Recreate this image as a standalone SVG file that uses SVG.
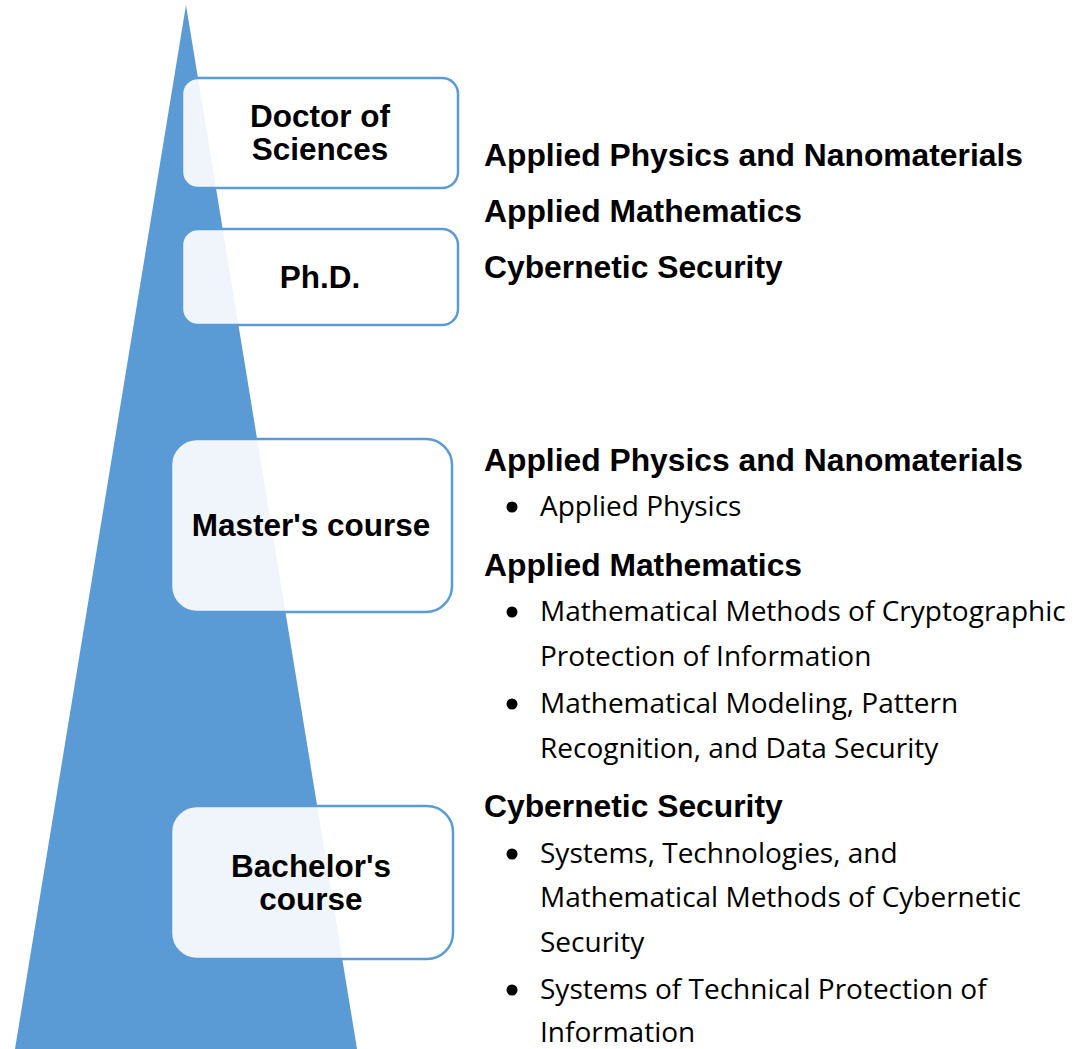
<svg xmlns="http://www.w3.org/2000/svg" width="1084" height="1049" viewBox="0 0 1084 1049">
<style>
.box{fill:#ffffff;fill-opacity:0.9;stroke:#5B9BD5;stroke-width:2.5}
.bt{font-family:"Liberation Sans",Arial,sans-serif;font-weight:bold;font-size:31.5px;fill:#000;text-anchor:middle}
.h{font-family:"Liberation Sans",Arial,sans-serif;font-weight:bold;font-size:31.8px;fill:#000}
.b{font-family:"Open Sans","Noto Sans",sans-serif;font-size:28px;fill:#000}
.dot{fill:#000}
</style>
<rect width="1084" height="1049" fill="#ffffff"/>
<polygon id="pyramid" points="186,5 15,1049 357,1049" fill="#5B9BD5"/>
<g id="connectors"></g>
<g id="node-doctor">
<rect class="box" x="182" y="78" width="276" height="110" rx="16"/>
<text class="bt" x="320" y="127">Doctor of</text>
<text class="bt" x="320" y="160">Sciences</text>
</g>
<g id="node-phd">
<rect class="box" x="182" y="229" width="276" height="96" rx="16"/>
<text class="bt" x="320" y="288">Ph.D.</text>
</g>
<g id="node-master">
<rect class="box" x="171" y="439" width="281" height="173" rx="26"/>
<text class="bt" x="311" y="536">Master's course</text>
</g>
<g id="node-bachelor">
<rect class="box" x="171" y="806" width="282" height="153" rx="26"/>
<text class="bt" x="311" y="877">Bachelor's</text>
<text class="bt" x="311" y="910">course</text>
</g>
<g id="text-upper">
<text class="h" x="484" y="166">Applied Physics and Nanomaterials</text>
<text class="h" x="484" y="222">Applied Mathematics</text>
<text class="h" x="484" y="278">Cybernetic Security</text>
</g>
<g id="text-lower">
<text class="h" x="484" y="471">Applied Physics and Nanomaterials</text>
<circle class="dot" cx="512" cy="507" r="5.5"/>
<text class="b" x="540" y="516">Applied Physics</text>
<text class="h" x="484" y="576">Applied Mathematics</text>
<circle class="dot" cx="512" cy="612" r="5.5"/>
<text class="b" x="540" y="621">Mathematical Methods of Cryptographic</text>
<text class="b" x="540" y="666">Protection of Information</text>
<circle class="dot" cx="512" cy="704" r="5.5"/>
<text class="b" x="540" y="713">Mathematical Modeling, Pattern</text>
<text class="b" x="540" y="758">Recognition, and Data Security</text>
<text class="h" x="484" y="817">Cybernetic Security</text>
<circle class="dot" cx="512" cy="854" r="5.5"/>
<text class="b" x="540" y="863">Systems, Technologies, and</text>
<text class="b" x="540" y="907">Mathematical Methods of Cybernetic</text>
<text class="b" x="540" y="952">Security</text>
<circle class="dot" cx="512" cy="990" r="5.5"/>
<text class="b" x="540" y="999">Systems of Technical Protection of</text>
<text class="b" x="540" y="1042">Information</text>
</g>
</svg>
